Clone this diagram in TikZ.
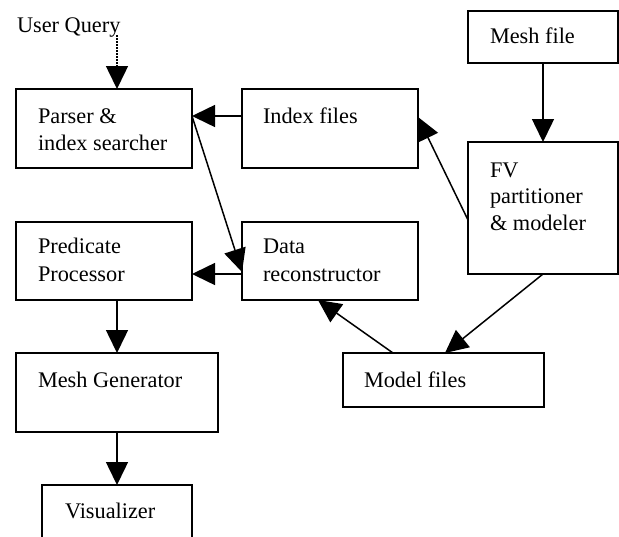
\documentclass[tikz,border=0pt]{standalone}
\usepackage{fontspec}
\setmainfont{Liberation Serif}
\usetikzlibrary{arrows.meta}
\begin{document}
\begin{tikzpicture}[x=1pt,y=-1pt,
  box/.style={draw, line width=1.6pt, inner sep=0pt, outer sep=0pt, anchor=north west},
  txt/.style={inner sep=0pt, outer sep=0pt, anchor=base west, font=\fontsize{22.3}{26.8}\selectfont},
  arr/.style={line width=1.5pt, -{Triangle[length=23pt,width=22pt]}},
  dotarr/.style={line width=1.5pt, dash pattern=on 1.5pt off 1.5pt, -{Triangle[length=23pt,width=22pt]}}]
\useasboundingbox (0,0) rectangle (619,536);
% boxes
\node[box, minimum width=176pt, minimum height=79pt] (parser) at (16,89) {};
\node[box, minimum width=176pt, minimum height=79pt] (index) at (242,89) {};
\node[box, minimum width=150pt, minimum height=52pt] (mesh) at (468,11) {};
\node[box, minimum width=150pt, minimum height=132pt] (fv) at (468,142) {};
\node[box, minimum width=176pt, minimum height=78pt] (pred) at (16,222) {};
\node[box, minimum width=176pt, minimum height=78pt] (data) at (242,222) {};
\node[box, minimum width=201pt, minimum height=54pt] (model) at (343,353) {};
\node[box, minimum width=202pt, minimum height=79pt] (mgen) at (16,353) {};
\node[box, minimum width=150pt, minimum height=80pt] (vis) at (42,485) {};
% texts
\node[txt] (tuq) at (17,32) {User Query};
\node[txt] (tparserA) at (38,123) {Parser \&};
\node[txt] (tparserB) at (38,150) {index searcher};
\node[txt] (tindex) at (263,123) {Index files};
\node[txt] (tmesh) at (490,43) {Mesh file};
\node[txt] (tfvA) at (490,177) {FV};
\node[txt] (tfvB) at (490,203) {partitioner};
\node[txt] (tfvC) at (490,230) {\& modeler};
\node[txt] (tpredA) at (38,253) {Predicate};
\node[txt] (tpredB) at (38,281) {Processor};
\node[txt] (tdataA) at (263,253) {Data};
\node[txt] (tdataB) at (263,281) {reconstructor};
\node[txt] (tmodel) at (364,387) {Model files};
\node[txt] (tmgen) at (38,387) {Mesh Generator};
\node[txt] (tvis) at (65,518) {Visualizer};
% connectors
\coordinate (uqend) at (117,35);
\draw[dotarr] (uqend) -- ([xshift=101pt]parser.north west);
\draw[arr] ([yshift=-27pt]index.north west) -- ([yshift=-27pt]parser.north east);
\draw[arr] ([yshift=-27pt]parser.north east) -- ([yshift=-50pt]data.north west);
\draw[arr] ([yshift=-52pt]data.north west) -- ([yshift=-52pt]pred.north east);
\draw[arr] (mesh.south) -- (fv.north);
\draw[arr] ([yshift=-78pt]fv.north west) -- ([yshift=-28pt]index.north east);
\draw[arr] (fv.south) -- ([xshift=102pt]model.north west);
\draw[arr] ([xshift=50pt]model.north west) -- ([xshift=76pt]data.south west);
\draw[arr] ([xshift=101pt]pred.south west) -- ([xshift=101pt]mgen.north west);
\draw[arr] ([xshift=101pt]mgen.south west) -- ([xshift=75pt]vis.north west);
\end{tikzpicture}
\end{document}
